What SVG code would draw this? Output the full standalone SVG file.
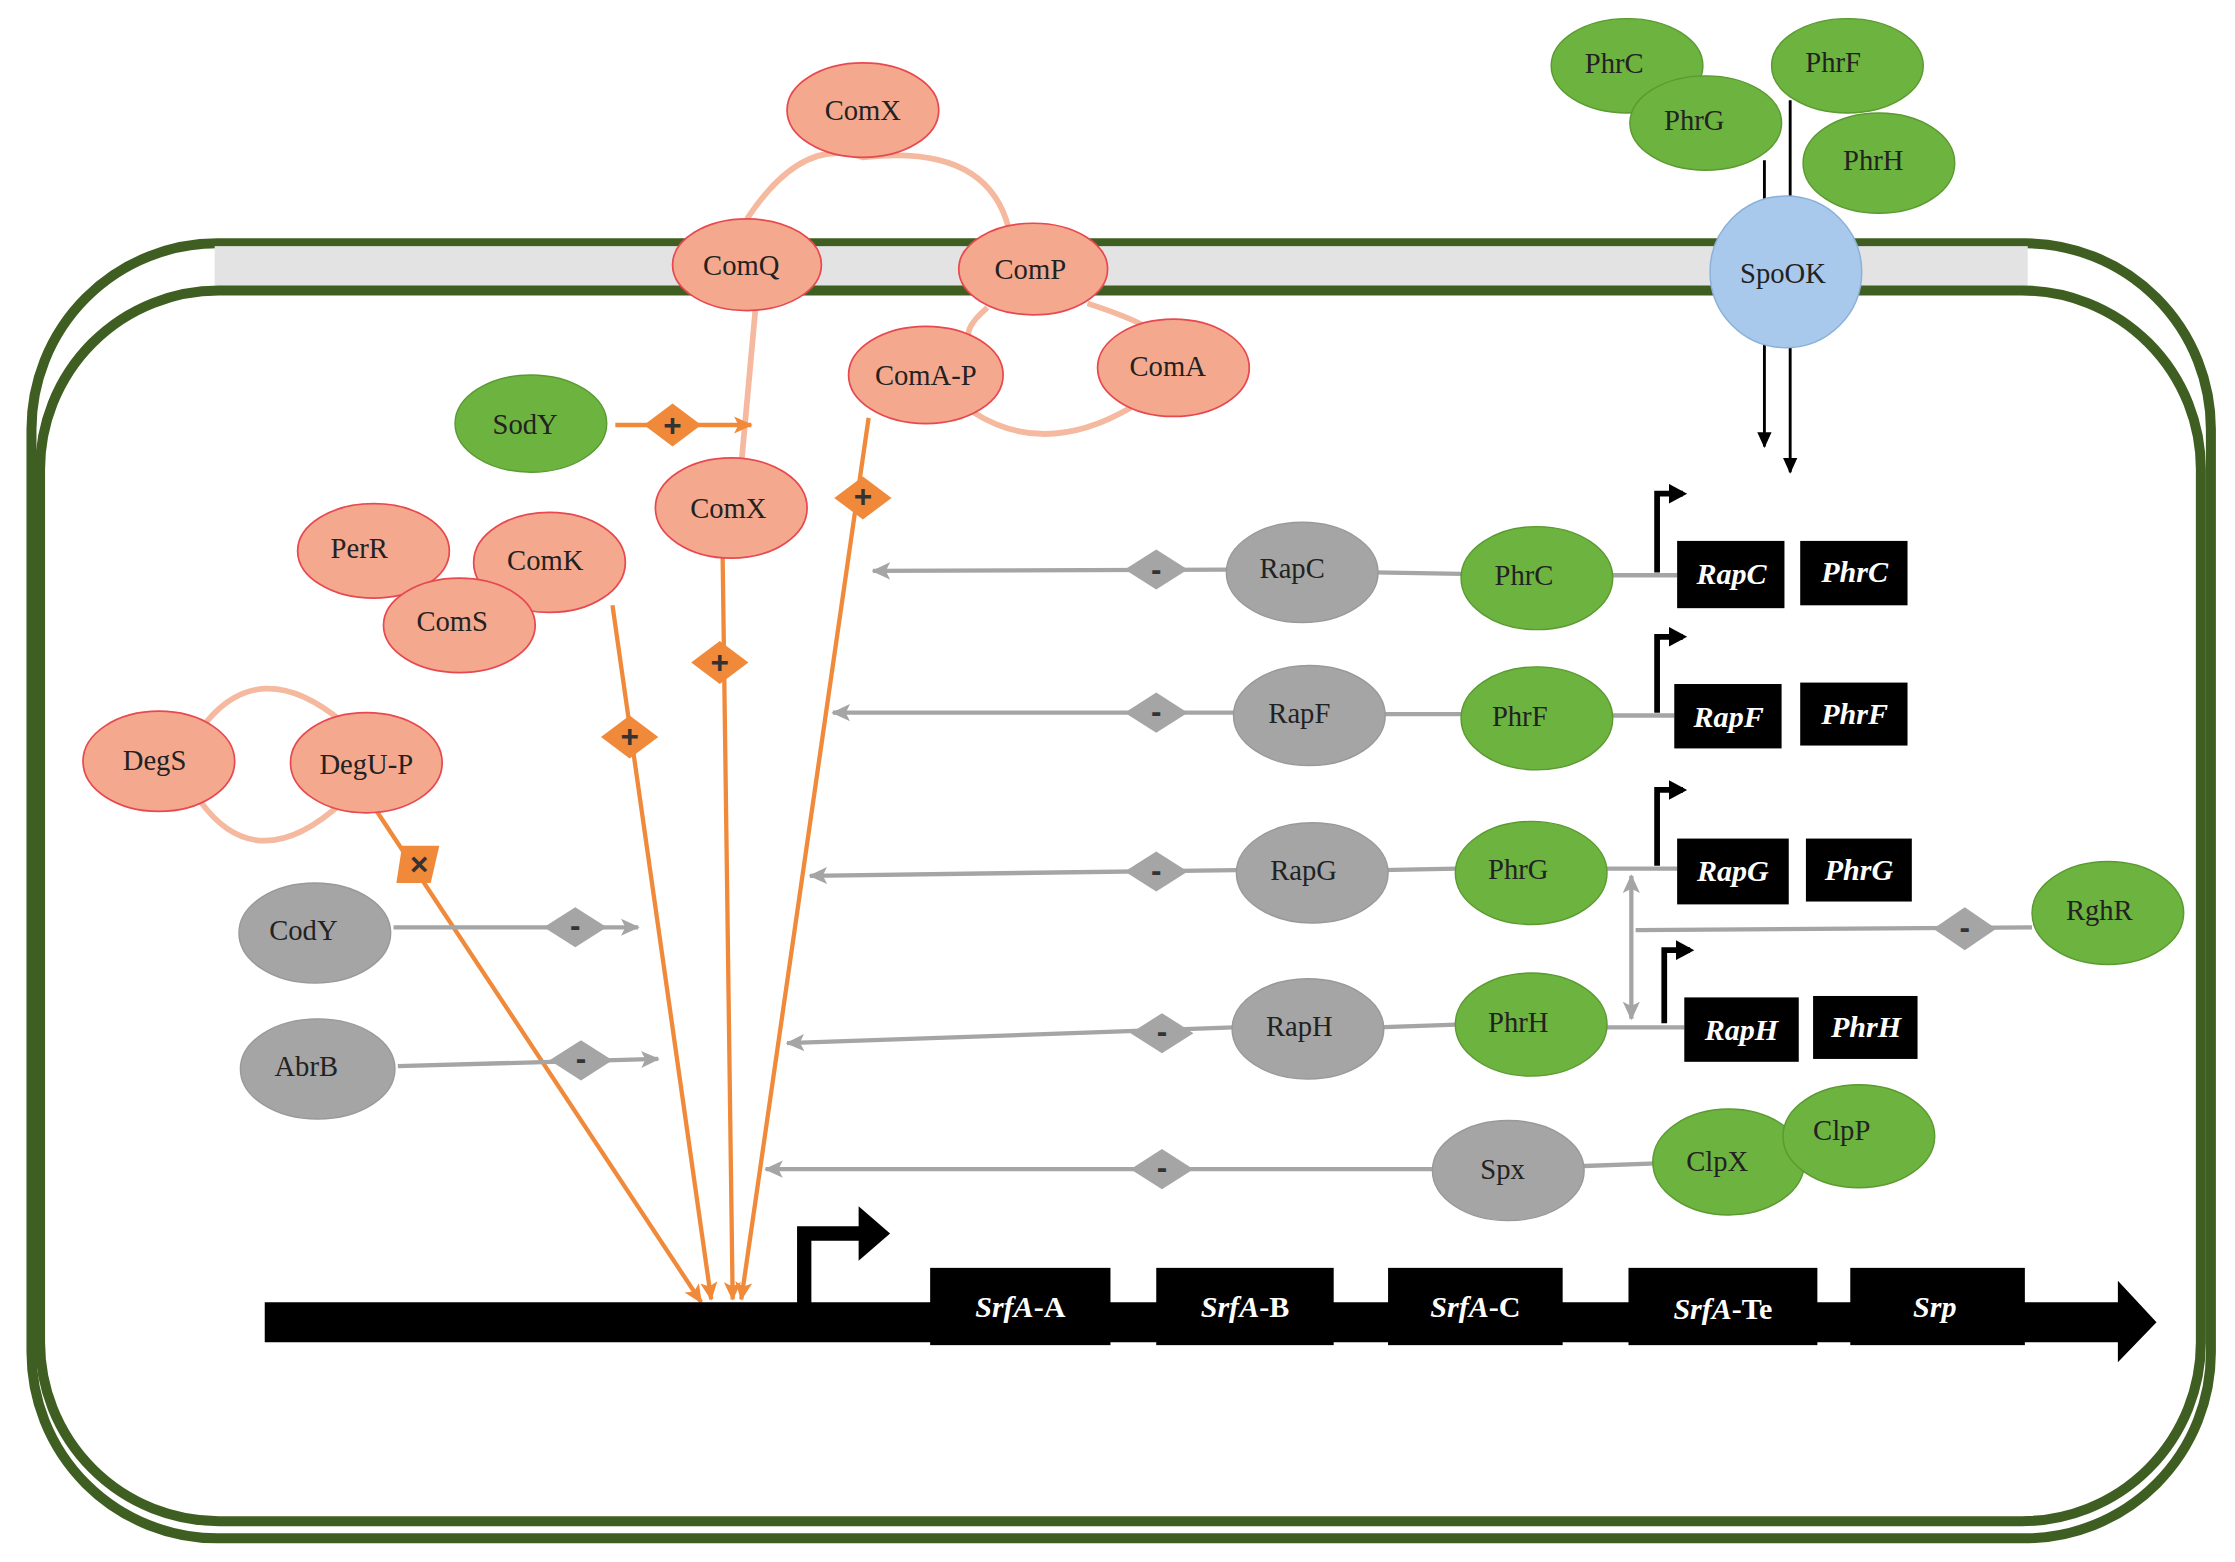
<svg xmlns="http://www.w3.org/2000/svg" width="2235" height="1562" viewBox="0 0 2235 1562">
<defs>
<style>
.s{fill:#f4a98e;stroke:#e8484f;stroke-width:1.2}
.g{fill:#6db33f;stroke:#5a9a30;stroke-width:1}
.y{fill:#a5a5a5;stroke:#999;stroke-width:1}
.t{font-family:"Liberation Serif",serif;font-size:20px;fill:#222;text-anchor:middle;dominant-baseline:central}
.b{fill:#000}
.bt{font-family:"Liberation Serif",serif;font-size:21px;font-weight:bold;font-style:italic;fill:#fff;text-anchor:middle;dominant-baseline:central}
.n{font-style:normal}
.gl{stroke:#a5a5a5;stroke-width:3;fill:none}
.ol{stroke:#f08a3a;stroke-width:3;fill:none}
.pl{stroke:#f5b9a0;stroke-width:4;fill:none}
.kl{stroke:#000;stroke-width:2;fill:none}
.pr{stroke:#000;stroke-width:4;fill:none}
.dm{fill:#a5a5a5}
.od{fill:#f08a3a}
.sg{font-family:"Liberation Sans",sans-serif;font-size:22px;font-weight:bold;fill:#333;text-anchor:middle;dominant-baseline:central}
</style>
<marker id="ao" markerWidth="14" markerHeight="14" refX="12" refY="7" orient="auto" markerUnits="userSpaceOnUse"><path d="M0,1 L13,7 L0,13 L3,7z" fill="#f08a3a"/></marker>
<marker id="ak" markerWidth="12" markerHeight="12" refX="10" refY="6" orient="auto" markerUnits="userSpaceOnUse"><path d="M0,1 L11,6 L0,11z" fill="#000"/></marker>
<marker id="agg" markerWidth="14" markerHeight="14" refX="12" refY="7" orient="auto-start-reverse" markerUnits="userSpaceOnUse"><path d="M0,1 L13,7 L0,13 L3,7z" fill="#a5a5a5"/></marker>
<marker id="ab" markerWidth="14" markerHeight="14" refX="10" refY="7" orient="auto" markerUnits="userSpaceOnUse"><path d="M0,0 L13,7 L0,14z" fill="#000"/></marker>
</defs>
<rect width="2235" height="1562" fill="#fff"/>
<g transform="scale(1.431)">
<g id="cell">
<rect x="22" y="170" width="1523" height="905" rx="130" fill="#fff" stroke="#3f5f22" stroke-width="7"/>
<rect x="150" y="172" width="1267" height="32" fill="#e3e3e3"/>
<rect x="28" y="203" width="1510" height="860" rx="125" fill="#fff" stroke="#3f5f22" stroke-width="7"/>
</g>
<g id="connectors">
<path class="pl" d="M522,153 Q560,95 603,110 Q690,100 705,160"/>
<path class="pl" d="M528,215 L518,325"/>
<path class="pl" d="M690,215 Q670,232 680,240"/>
<path class="pl" d="M760,212 Q790,222 800,228"/>
<path class="pl" d="M680,288 Q730,320 790,285"/>
<path class="pl" d="M140,510 Q180,455 240,505"/>
<path class="pl" d="M140,560 Q180,615 240,560"/>
<path class="ol" d="M430,297 L525,297" marker-end="url(#ao)"/>
<path class="ol" d="M505,390 L512,908" marker-end="url(#ao)"/>
<path class="ol" d="M428,423 L497,908" marker-end="url(#ao)"/>
<path class="ol" d="M607,292 L518,908" marker-end="url(#ao)"/>
<path class="ol" d="M262,565 L490,910" marker-end="url(#ao)"/>
<path class="gl" d="M857,398 L610,399" marker-end="url(#agg)"/>
<path class="gl" d="M864,498 L582,498" marker-end="url(#agg)"/>
<path class="gl" d="M864,608 L566,612" marker-end="url(#agg)"/>
<path class="gl" d="M862,718 L550,729" marker-end="url(#agg)"/>
<path class="gl" d="M1002,817 L535,817" marker-end="url(#agg)"/>
<path class="gl" d="M275,648 L446,648" marker-end="url(#agg)"/>
<path class="gl" d="M278,745 L460,740" marker-end="url(#agg)"/>
<path class="gl" d="M960,400 L1022,401"/><path class="gl" d="M1125,402 L1172,402"/>
<path class="gl" d="M960,499 L1022,499"/><path class="gl" d="M1125,500 L1170,500"/>
<path class="gl" d="M965,608 L1018,607"/><path class="gl" d="M1120,607 L1172,607"/>
<path class="gl" d="M962,718 L1018,716"/><path class="gl" d="M1120,718 L1177,718"/>
<path class="gl" d="M1102,815 L1158,813"/>
<path class="gl" d="M1420,648 L1143,650"/>
<path class="gl" d="M1140,612 L1140,712" marker-start="url(#agg)" marker-end="url(#agg)"/>
<path class="kl" d="M1233,112 L1233,312" marker-end="url(#ak)"/>
<path class="kl" d="M1251,70 L1251,330" marker-end="url(#ak)"/>
<path class="pr" d="M1158,400 L1158,345 L1176,345" marker-end="url(#ab)"/>
<path class="pr" d="M1158,498 L1158,445 L1176,445" marker-end="url(#ab)"/>
<path class="pr" d="M1158,605 L1158,552 L1176,552" marker-end="url(#ab)"/>
<path class="pr" d="M1163,715 L1163,664 L1181,664" marker-end="url(#ab)"/>
<path d="M562,912 L562,862 L605,862" stroke="#000" stroke-width="10" fill="none"/>
<path d="M600,843 L622,862 L600,881z" fill="#000"/>
<g>
<path class="dm" d="M808,384 L830,398 L808,412 L786,398z"/><text class="sg" x="808" y="398">-</text>
<path class="dm" d="M808,484 L830,498 L808,512 L786,498z"/><text class="sg" x="808" y="497">-</text>
<path class="dm" d="M808,595 L830,609 L808,623 L786,609z"/><text class="sg" x="808" y="608">-</text>
<path class="dm" d="M812,708 L834,722 L812,736 L790,722z"/><text class="sg" x="812" y="721">-</text>
<path class="dm" d="M812,803 L834,817 L812,831 L790,817z"/><text class="sg" x="812" y="816">-</text>
<path class="dm" d="M402,634 L424,648 L402,662 L380,648z"/><text class="sg" x="402" y="647">-</text>
<path class="dm" d="M406,727 L428,741 L406,755 L384,741z"/><text class="sg" x="406" y="740">-</text>
<path class="dm" d="M1373,634 L1395,649 L1373,664 L1351,649z"/><text class="sg" x="1373" y="648">-</text>
<path class="od" d="M470,282 L490,297 L470,312 L450,297z"/><text class="sg" x="470" y="297">+</text>
<path class="od" d="M503,448 L523,463 L503,478 L483,463z"/><text class="sg" x="503" y="463">+</text>
<path class="od" d="M440,500 L460,515 L440,530 L420,515z"/><text class="sg" x="440" y="515">+</text>
<path class="od" d="M603,333 L623,348 L603,363 L583,348z"/><text class="sg" x="603" y="347">+</text>
<path class="od" d="M281,591 L307,591 L301,617 L277,617z"/><text class="sg" x="293" y="604">×</text>
</g>
</g>
<g id="ComX_top"><ellipse class="s" cx="603" cy="77" rx="53" ry="33"/><text class="t" x="603" y="77">ComX</text></g>
<g id="ComQ"><ellipse class="s" cx="522" cy="185" rx="52" ry="32"/><text class="t" x="518" y="185">ComQ</text></g>
<g id="ComP"><ellipse class="s" cx="722" cy="188" rx="52" ry="32"/><text class="t" x="720" y="188">ComP</text></g>
<g id="ComA-P"><ellipse class="s" cx="647" cy="262" rx="54" ry="34"/><text class="t" x="647" y="262">ComA-P</text></g>
<g id="ComA"><ellipse class="s" cx="820" cy="257" rx="53" ry="34"/><text class="t" x="816" y="256">ComA</text></g>
<g id="ComX_mid"><ellipse class="s" cx="511" cy="355" rx="53" ry="35"/><text class="t" x="509" y="355">ComX</text></g>
<g id="PerR"><ellipse class="s" cx="261" cy="385" rx="53" ry="33"/><text class="t" x="251" y="383">PerR</text></g>
<g id="ComK"><ellipse class="s" cx="384" cy="393" rx="53" ry="35"/><text class="t" x="381" y="391">ComK</text></g>
<g id="ComS"><ellipse class="s" cx="321" cy="437" rx="53" ry="33"/><text class="t" x="316" y="434">ComS</text></g>
<g id="DegS"><ellipse class="s" cx="111" cy="532" rx="53" ry="35"/><text class="t" x="108" y="531">DegS</text></g>
<g id="DegU-P"><ellipse class="s" cx="256" cy="533" rx="53" ry="35"/><text class="t" x="256" y="534">DegU-P</text></g>
<g id="SodY"><ellipse class="g" cx="371" cy="296" rx="53" ry="34"/><text class="t" x="367" y="296">SodY</text></g>
<g id="PhrC_out"><ellipse class="g" cx="1137" cy="46" rx="53" ry="33"/><text class="t" x="1128" y="44">PhrC</text></g>
<g id="PhrF_out"><ellipse class="g" cx="1291" cy="46" rx="53" ry="33"/><text class="t" x="1281" y="43">PhrF</text></g>
<g id="PhrG_out"><ellipse class="g" cx="1192" cy="86" rx="53" ry="33"/><text class="t" x="1184" y="84">PhrG</text></g>
<g id="PhrH_out"><ellipse class="g" cx="1313" cy="114" rx="53" ry="35"/><text class="t" x="1309" y="112">PhrH</text></g>
<g id="SpoOK"><circle cx="1248" cy="190" r="53" fill="#a8c8ec" stroke="#8ab0d8" stroke-width="1"/><text class="t" x="1246" y="191">SpoOK</text></g>
<g id="CodY"><ellipse class="y" cx="220" cy="652" rx="53" ry="35"/><text class="t" x="212" y="650">CodY</text></g>
<g id="AbrB"><ellipse class="y" cx="222" cy="747" rx="54" ry="35"/><text class="t" x="214" y="745">AbrB</text></g>
<g id="RapC"><ellipse class="y" cx="910" cy="400" rx="53" ry="35"/><text class="t" x="903" y="397">RapC</text></g>
<g id="RapF"><ellipse class="y" cx="915" cy="500" rx="53" ry="35"/><text class="t" x="908" y="498">RapF</text></g>
<g id="RapG"><ellipse class="y" cx="917" cy="610" rx="53" ry="35"/><text class="t" x="911" y="608">RapG</text></g>
<g id="RapH"><ellipse class="y" cx="914" cy="719" rx="53" ry="35"/><text class="t" x="908" y="717">RapH</text></g>
<g id="Spx"><ellipse class="y" cx="1054" cy="818" rx="53" ry="35"/><text class="t" x="1050" y="817">Spx</text></g>
<g id="PhrC"><ellipse class="g" cx="1074" cy="404" rx="53" ry="36"/><text class="t" x="1065" y="402">PhrC</text></g>
<g id="PhrF"><ellipse class="g" cx="1074" cy="502" rx="53" ry="36"/><text class="t" x="1062" y="500">PhrF</text></g>
<g id="PhrG"><ellipse class="g" cx="1070" cy="610" rx="53" ry="36"/><text class="t" x="1061" y="607">PhrG</text></g>
<g id="PhrH"><ellipse class="g" cx="1070" cy="716" rx="53" ry="36"/><text class="t" x="1061" y="714">PhrH</text></g>
<g id="ClpX"><ellipse class="g" cx="1208" cy="812" rx="53" ry="37"/><text class="t" x="1200" y="811">ClpX</text></g>
<g id="ClpP"><ellipse class="g" cx="1299" cy="794" rx="53" ry="36"/><text class="t" x="1287" y="790">ClpP</text></g>
<g id="RghR"><ellipse class="g" cx="1473" cy="638" rx="53" ry="36"/><text class="t" x="1467" y="636">RghR</text></g>
<g id="genes_rap">
<rect class="b" x="1172" y="378" width="75" height="47"/><text class="bt" x="1210" y="401">RapC</text>
<rect class="b" x="1258" y="378" width="75" height="45"/><text class="bt" x="1296" y="400">PhrC</text>
<rect class="b" x="1170" y="478" width="75" height="45"/><text class="bt" x="1208" y="501">RapF</text>
<rect class="b" x="1258" y="477" width="75" height="44"/><text class="bt" x="1296" y="499">PhrF</text>
<rect class="b" x="1172" y="586" width="78" height="46"/><text class="bt" x="1211" y="609">RapG</text>
<rect class="b" x="1262" y="586" width="74" height="44"/><text class="bt" x="1299" y="608">PhrG</text>
<rect class="b" x="1177" y="697" width="80" height="45"/><text class="bt" x="1217" y="720">RapH</text>
<rect class="b" x="1267" y="696" width="73" height="44"/><text class="bt" x="1304" y="718">PhrH</text>
</g>
<g id="operon">
<path class="b" d="M185,910 L1480,910 L1480,895 L1507,924 L1480,952 L1480,938 L185,938z"/>
<rect class="b" x="650" y="886" width="126" height="54"/><text class="bt" x="713" y="913">SrfA<tspan class="n">-A</tspan></text>
<rect class="b" x="808" y="886" width="124" height="54"/><text class="bt" x="870" y="913">SrfA<tspan class="n">-B</tspan></text>
<rect class="b" x="970" y="886" width="122" height="54"/><text class="bt" x="1031" y="913">SrfA<tspan class="n">-C</tspan></text>
<rect class="b" x="1138" y="886" width="132" height="54"/><text class="bt" x="1204" y="915">SrfA<tspan class="n">-Te</tspan></text>
<rect class="b" x="1293" y="886" width="122" height="54"/><text class="bt" x="1352" y="913">Srp</text>
</g>
</g>
</svg>
